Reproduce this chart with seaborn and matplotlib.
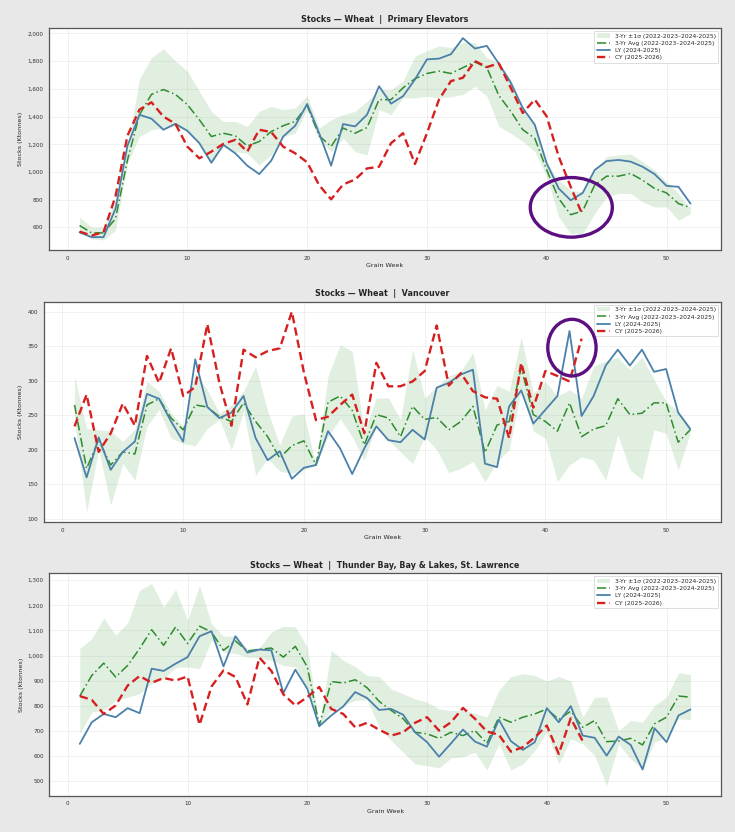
import numpy as np
import pandas as pd
import matplotlib
matplotlib.use("Agg")
import matplotlib.pyplot as plt
import seaborn as sns
from matplotlib.patches import Ellipse

weeks = list(range(1, 53))
cy_weeks = list(range(1, 44))

# ---------------- Primary Elevators ----------------
pe_ly = [565, 530, 530, 735, 1190, 1413, 1385, 1305, 1348, 1297, 1208, 1067, 1196, 1135, 1046, 985,
         1082, 1256, 1334, 1491, 1280, 1046, 1346, 1329, 1414, 1619, 1493, 1547, 1668, 1813, 1818,
         1850, 1966, 1891, 1910, 1782, 1644, 1462, 1341, 1062, 881, 796, 849, 1014, 1079, 1087, 1075,
         1038, 985, 900, 893, 772]
pe_cy = [570, 542, 566, 825, 1263, 1450, 1503, 1400, 1348, 1183, 1099, 1147, 1203, 1232, 1147, 1305,
         1288, 1183, 1135, 1070, 905, 803, 910, 946, 1026, 1038, 1208, 1280, 1058, 1280, 1522, 1656,
         1680, 1801, 1757, 1784, 1607, 1426, 1523, 1401, 1111, 893, 687]
pe_avg = [614, 561, 561, 663, 1087, 1413, 1560, 1595, 1560, 1486, 1377, 1256, 1280, 1261, 1188, 1220,
          1292, 1334, 1365, 1479, 1261, 1184, 1317, 1280, 1321, 1522, 1522, 1607, 1673, 1711, 1728,
          1711, 1753, 1794, 1753, 1552, 1438, 1305, 1244, 1014, 808, 692, 719, 905, 970, 970, 990,
          941, 881, 849, 772, 743]
pe_hi = [675, 602, 602, 796, 1183, 1673, 1825, 1890, 1801, 1728, 1583, 1438, 1365, 1365, 1329, 1438,
         1474, 1450, 1462, 1551, 1317, 1377, 1414, 1438, 1511, 1595, 1595, 1656, 1837, 1874, 1910,
         1898, 1934, 1934, 1825, 1789, 1668, 1462, 1353, 1062, 941, 869, 857, 1014, 1111, 1123, 1130,
         1075, 1014, 929, 845, 736]
pe_lo = [578, 518, 510, 578, 1062, 1256, 1305, 1317, 1329, 1292, 1208, 1062, 1184, 1147, 1135, 1050,
         1123, 1256, 1280, 1450, 1232, 1147, 1244, 1147, 1123, 1450, 1414, 1535, 1535, 1547, 1535,
         1542, 1559, 1619, 1547, 1329, 1280, 1220, 1147, 966, 675, 554, 554, 700, 820, 845, 845,
         784, 748, 748, 651, 700]

# ---------------- Vancouver ----------------
va_ly = [217, 160, 218, 171, 197, 212, 281, 274, 241, 212, 331, 262, 246, 254, 278, 217, 185, 198,
         158, 174, 178, 227, 202, 165, 202, 234, 214, 211, 229, 215, 290, 297, 309, 316, 180, 175,
         263, 286, 238, 258, 278, 372, 249, 278, 322, 345, 322, 345, 313, 317, 254, 230]
va_cy = [234, 280, 197, 224, 267, 235, 336, 297, 347, 278, 291, 382, 297, 235, 345, 334, 343, 347,
         400, 312, 243, 248, 265, 280, 224, 326, 292, 292, 299, 314, 380, 293, 311, 285, 276, 274,
         217, 326, 261, 314, 307, 299, 361]
va_avg = [265, 173, 214, 178, 197, 194, 265, 274, 246, 229, 265, 262, 248, 241, 268, 241, 219, 188,
          206, 213, 178, 269, 278, 257, 207, 251, 246, 219, 263, 244, 247, 229, 241, 263, 196, 236,
          241, 319, 251, 241, 227, 268, 219, 230, 235, 274, 251, 253, 268, 268, 211, 229]
va_hi = [307, 231, 229, 227, 212, 230, 299, 285, 253, 234, 312, 287, 253, 265, 285, 321, 256, 207,
         249, 252, 178, 307, 352, 343, 227, 275, 275, 244, 346, 275, 292, 307, 314, 341, 258, 293,
         285, 363, 282, 299, 278, 287, 275, 321, 329, 334, 316, 334, 302, 270, 256, 234]
va_lo = [244, 110, 200, 120, 180, 156, 234, 258, 217, 209, 206, 231, 244, 200, 256, 163, 188, 169,
         166, 171, 178, 219, 245, 219, 185, 234, 214, 197, 180, 219, 200, 167, 173, 183, 154, 183,
         200, 287, 227, 217, 154, 178, 190, 185, 156, 222, 171, 157, 229, 224, 171, 224]

# ---------------- Thunder Bay, Bay & Lakes, St. Lawrence ----------------
tb_ly = [649, 735, 768, 755, 791, 771, 948, 939, 968, 994, 1077, 1097, 957, 1077, 1012, 1024, 1021,
         851, 944, 868, 719, 762, 798, 855, 831, 784, 788, 765, 695, 656, 598, 651, 706, 658, 638,
         745, 660, 625, 656, 791, 735, 799, 682, 673, 602, 678, 645, 547, 711, 656, 762, 786]
tb_cy = [839, 824, 768, 802, 881, 919, 892, 911, 901, 917, 725, 877, 941, 915, 806, 992, 939, 846,
         802, 835, 875, 788, 768, 715, 733, 705, 682, 695, 733, 755, 702, 735, 792, 749, 698, 685,
         618, 636, 675, 722, 609, 751, 660]
tb_avg = [839, 921, 970, 915, 961, 1028, 1103, 1041, 1114, 1048, 1117, 1094, 1021, 1058, 1018, 1025,
          1030, 994, 1037, 955, 722, 897, 891, 904, 872, 818, 782, 749, 695, 689, 671, 695, 682, 702,
          651, 755, 735, 755, 768, 788, 746, 779, 715, 742, 658, 660, 671, 645, 729, 755, 839, 835]
tb_hi = [1028, 1067, 1150, 1081, 1130, 1260, 1287, 1194, 1263, 1141, 1280, 1127, 1077, 1077, 1028,
         1032, 1094, 1117, 1114, 1034, 722, 1021, 981, 957, 921, 917, 868, 848, 828, 815, 788, 782,
         784, 771, 755, 862, 917, 928, 921, 899, 917, 899, 755, 835, 835, 702, 742, 735, 802, 835,
         932, 925]
tb_lo = [689, 775, 784, 822, 835, 848, 888, 908, 952, 955, 948, 1061, 1014, 1008, 994, 992, 981, 961,
         955, 868, 722, 782, 802, 822, 824, 715, 662, 616, 569, 562, 553, 593, 598, 616, 545, 649,
         545, 569, 622, 695, 569, 669, 649, 602, 483, 649, 589, 549, 656, 675, 749, 745]

titles = ["Stocks \u2014 Wheat  |  Primary Elevators",
          "Stocks \u2014 Wheat  |  Vancouver",
          "Stocks \u2014 Wheat  |  Thunder Bay, Bay & Lakes, St. Lawrence"]
label_band = "3-Yr \u00b11\u03c3 (2022-2023\u20132024-2025)"
label_avg = "3-Yr Avg (2022-2023\u20132024-2025)"
label_ly = "LY (2024-2025)"
label_cy = "CY (2025-2026)"

# highlight ellipses: (center week, center value, width weeks, height value) per panel
highlights = [(42.05, 745, 6.85, 430), (42.2, 348, 4.0, 82), None]

sns.set_theme(style="white")
plt.rcParams['font.family'] = ['DejaVu Sans']

fig = plt.figure(figsize=(7.35, 8.32), dpi=100, facecolor="#e8e8e8")
positions = [
    [0.0667, 0.6995, 0.9143, 0.2668],
    [0.0595, 0.3726, 0.9215, 0.2648],
    [0.0670, 0.0436, 0.9140, 0.2673],
]

panels = [
    (pe_ly, pe_cy, pe_avg, pe_hi, pe_lo),
    (va_ly, va_cy, va_avg, va_hi, va_lo),
    (tb_ly, tb_cy, tb_avg, tb_hi, tb_lo),
]

band_color = "#d8ebd8"
for i, (ly, cy, avg, hi, lo) in enumerate(panels):
    ax = fig.add_axes(positions[i])
    ax.set_facecolor("white")
    df = pd.DataFrame({"week": weeks, "ly": ly, "avg": avg, "hi": hi, "lo": lo})
    dcy = pd.DataFrame({"week": cy_weeks, "cy": cy})
    ax.fill_between(df["week"], df["lo"], df["hi"], color="#5aaa5a", alpha=0.18,
                    linewidth=0, label=label_band)
    sns.lineplot(data=df, x="week", y="avg", ax=ax, color="#2e8b2e", linewidth=1.1,
                 linestyle=(0, (6, 2, 1, 2)), label=label_avg)
    sns.lineplot(data=df, x="week", y="ly", ax=ax, color="#4a80aa", linewidth=1.3,
                 label=label_ly)
    sns.lineplot(data=dcy, x="week", y="cy", ax=ax, color="#d62020", linewidth=1.7,
                 linestyle=(0, (3.5, 1.8)), label=label_cy)
    ax.grid(True, color="#e6e6e6", linewidth=0.5, alpha=0.8)
    ax.set_axisbelow(True)
    ax.set_title(titles[i], fontsize=5.8, fontweight="bold", pad=4)
    ax.set_xlabel("Grain Week", fontsize=4.6, labelpad=2)
    ax.set_ylabel("Stocks (Ktonnes)", fontsize=4.6, labelpad=3)
    ax.tick_params(axis="both", labelsize=4.1, length=2, width=0.5, pad=2,
                   color="#555555", labelcolor="#333333")
    ax.set_xticks([0, 10, 20, 30, 40, 50])
    ax.yaxis.set_major_formatter(matplotlib.ticker.FuncFormatter(lambda v, p: f"{v:,.0f}"))
    for s in ax.spines.values():
        s.set_color("#555555")
        s.set_linewidth(0.9)
    leg = ax.legend(loc="upper right", fontsize=4.3, frameon=True, framealpha=0.9,
                    edgecolor="#cccccc", fancybox=False, borderpad=0.4, labelspacing=0.35,
                    handlelength=2.2, handletextpad=0.8)
    leg.get_frame().set_linewidth(0.5)
    if highlights[i] is not None:
        cx, cyv, w, h = highlights[i]
        ax.add_patch(Ellipse((cx, cyv), w, h, fill=False, edgecolor="#5b0f80",
                             linewidth=2.4, zorder=10))

fig.savefig("out.png", dpi=100, facecolor=fig.get_facecolor())
